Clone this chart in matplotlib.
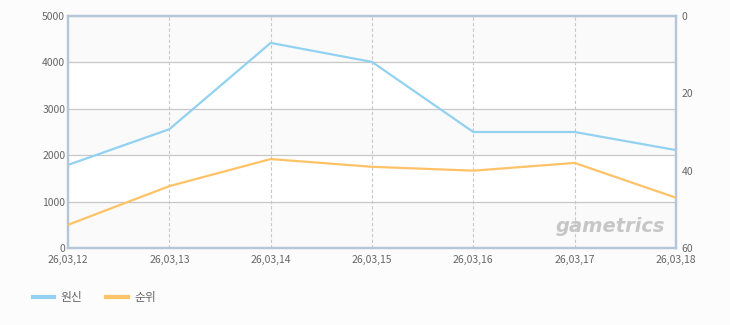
import matplotlib
matplotlib.use("agg")
import matplotlib.pyplot as plt
from matplotlib.lines import Line2D

plt.rcParams['font.family'] = ['Noto Sans CJK KR', 'DejaVu Sans']

dates = ['26,03,12', '26,03,13', '26,03,14', '26,03,15', '26,03,16', '26,03,17', '26,03,18']
users = [1790, 2560, 4420, 4010, 2500, 2500, 2110]   # 원신 (left axis)
rank = [54, 44, 37, 39, 40, 38, 47]                  # 순위 (right axis, inverted)

blue = '#92d2f0'
orange = '#ffc266'
frame = '#b4c6d8'
txt = '#666666'

fig = plt.figure(figsize=(7.3, 3.25), dpi=100, facecolor='#fcfcfc')
ax = fig.add_axes([68/730, 1 - 248/325, 608/730, 232/325])
ax.set_facecolor('white')
x = list(range(len(dates)))

ax.set_xlim(0, len(dates) - 1)
ax.set_ylim(0, 5000)
for lo in range(0, 5000, 2000):
    ax.axhspan(lo, lo + 1000, color='#fafafa', zorder=0)
ax.set_yticks(range(0, 5001, 1000))
ax.set_xticks(x)
ax.set_xticklabels(dates)
ax.grid(axis='y', color='#c8c8c8', linewidth=0.9)
for xi in x[1:-1]:
    ax.axvline(xi, color='#c8c8c8', linestyle=(0, (3, 2)), linewidth=0.8, zorder=1)
ax.plot(x, users, color=blue, linewidth=1.6, zorder=3)
ax.tick_params(axis='y', length=0, labelsize=7.5, colors=txt, pad=2)
ax.tick_params(axis='x', length=0, labelsize=7.5, colors=txt, pad=5)

ax2 = ax.twinx()
ax2.set_ylim(60, 0)
ax2.set_yticks([0, 20, 40, 60])
ax2.plot(x, rank, color=orange, linewidth=1.6, zorder=3)
ax2.tick_params(length=0, labelsize=7.5, colors=txt, pad=4)

for a in (ax, ax2):
    for s in a.spines.values():
        s.set_color(frame)
        s.set_linewidth(1.6)

ax.text(0.982, 0.05, 'gametrics', transform=ax.transAxes, ha='right', va='bottom',
        fontsize=14, fontstyle='italic', fontweight='bold', color='#c6c6c6',
        family='DejaVu Sans')

handles = [Line2D([], [], color=blue, linewidth=3), Line2D([], [], color=orange, linewidth=3)]
fig.legend(handles, ['원신', '순위'], loc='lower left', bbox_to_anchor=(22/730, 10/325),
           ncol=2, frameon=False, fontsize=8.5, labelcolor=txt, handlelength=1.8,
           columnspacing=2.0, handletextpad=0.6)

plt.savefig('out.png', dpi=100, facecolor=fig.get_facecolor())
